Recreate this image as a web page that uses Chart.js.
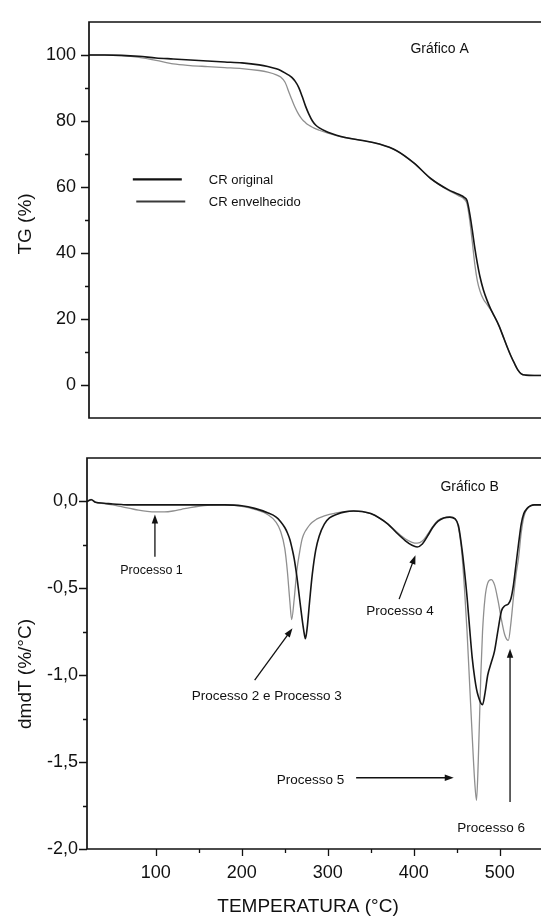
<!DOCTYPE html>
<html lang="pt">

<head>
  <meta charset="UTF-8" />
  <title>TG / DTG - CR original e envelhecido</title>
  <script src="https://cdn.jsdelivr.net/npm/chart.js"></script>
  <style>
    * {
      margin: 0;
      padding: 0;
      box-sizing: border-box;
    }

    body {
      width: 541px;
      height: 920px;
      background: #fff;
      overflow: hidden;
      position: relative;
    }

    .panel {
      position: absolute;
      left: 0;
      width: 541px;
    }

    #panelA {
      top: 0;
      height: 440px;
    }

    #panelB {
      top: 440px;
      height: 480px;
    }
  </style>
</head>

<body>
  <div class="panel" id="panelA"><canvas id="tgChart"></canvas></div>
  <div class="panel" id="panelB"><canvas id="dtgChart"></canvas></div>

  <script>
    const FONT = '"Liberation Sans", Arial, sans-serif';
    const INK = '#111';

    const seriesNames = ['CR original', 'CR envelhecido'];

    // Gráfico A - mass loss (TG, %)
    const tgTemp = [22, 40, 60, 80, 100, 120, 140, 160, 180, 200, 220, 230, 240, 245, 250,
      255, 258, 262, 266, 270, 274, 278, 282, 286, 290, 300, 310, 320, 340, 360,
      380, 400, 420, 440, 452, 459, 462, 465, 468, 471, 474, 477, 481, 485, 489,
      493, 499, 505, 509, 513, 517, 521, 525, 530, 540, 548];
    const tgOriginal = [100, 100, 99.9, 99.6, 99.1, 98.8, 98.5, 98.2, 97.9, 97.6, 97.0, 96.5, 95.8, 95.3, 94.6,
      93.8, 93.2, 92.0, 90.2, 87.5, 84.5, 82.0, 80.0, 78.7, 77.9, 76.6, 75.7, 75.0, 74.1, 73.0,
      71.0, 67.3, 62.5, 59.2, 57.8, 56.8, 55.8, 52.0, 47.0, 41.5, 36.8, 32.8, 28.8, 25.8, 23.3,
      21.2, 18.0, 14.0, 11.3, 8.8, 6.6, 4.6, 3.4, 3.0, 2.9, 2.9];
    const tgAged = [100, 100, 99.8, 99.3, 98.4, 97.3, 96.8, 96.5, 96.2, 95.9, 95.3, 94.8, 94.0, 93.3, 91.8,
      88.5, 86.5, 84.0, 82.0, 80.5, 79.5, 78.7, 78.1, 77.6, 77.2, 76.3, 75.6, 75.0, 74.1, 73.0,
      71.0, 67.3, 62.5, 59.0, 57.4, 56.2, 54.8, 50.0, 43.5, 36.5, 31.5, 28.5, 26.0, 24.5, 23.0,
      21.2, 18.0, 14.0, 11.3, 8.8, 6.6, 4.6, 3.4, 3.0, 2.9, 2.9];

    // Gráfico B - derivative (dm/dT, %/°C)
    const dtgTemp = [20, 25, 30, 40, 50, 60, 70, 80, 90, 100, 110, 120, 130, 140, 160,
      180, 200, 215, 230, 240, 245, 250, 253, 256, 258, 261, 264, 267, 270, 272,
      274, 276, 279, 282, 286, 290, 296, 302, 310, 320, 330, 340, 350, 360, 370,
      380, 390, 398, 404, 410, 416, 422, 428, 435, 442, 448, 452, 456, 459, 462,
      465, 468, 471, 473, 475, 478, 480, 483, 486, 490, 494, 498, 502, 506, 510,
      513, 516, 519, 522, 525, 528, 532, 536, 540, 548];
    const dtgOriginal = [0.0, 0.01, -0.005, -0.01, -0.015, -0.018, -0.02, -0.02, -0.02, -0.02, -0.02, -0.02, -0.02, -0.02, -0.02,
      -0.02, -0.025, -0.04, -0.065, -0.09, -0.115, -0.15, -0.18, -0.22, -0.26, -0.33, -0.43, -0.55, -0.67, -0.74,
      -0.79, -0.73, -0.57, -0.42, -0.28, -0.2, -0.13, -0.095, -0.075, -0.06, -0.055, -0.058, -0.07, -0.095, -0.13,
      -0.18, -0.225, -0.252, -0.262, -0.245, -0.2, -0.15, -0.115, -0.095, -0.09, -0.1, -0.14, -0.27, -0.4, -0.55,
      -0.73, -0.9, -1.02, -1.08, -1.12, -1.16, -1.17, -1.1, -1.0, -0.93, -0.86, -0.74, -0.63, -0.6, -0.59,
      -0.56, -0.48, -0.36, -0.24, -0.13, -0.07, -0.04, -0.025, -0.02, -0.02];
    const dtgAged = [0.0, 0.012, -0.005, -0.012, -0.02, -0.03, -0.04, -0.05, -0.057, -0.06, -0.06, -0.055, -0.045, -0.035, -0.022,
      -0.02, -0.028, -0.045, -0.075, -0.12, -0.17, -0.27, -0.4, -0.58, -0.68, -0.56, -0.4, -0.3, -0.22, -0.19,
      -0.17, -0.155, -0.135, -0.12, -0.105, -0.095, -0.083, -0.075, -0.066, -0.058, -0.055, -0.058, -0.07, -0.095, -0.13,
      -0.175, -0.215, -0.235, -0.24, -0.228, -0.19, -0.145, -0.11, -0.093, -0.09, -0.1, -0.15, -0.3, -0.5, -0.75,
      -1.05, -1.35, -1.62, -1.72, -1.5, -1.0, -0.75, -0.55, -0.47, -0.45, -0.48, -0.57, -0.68, -0.77, -0.8,
      -0.7, -0.55, -0.42, -0.32, -0.18, -0.09, -0.04, -0.025, -0.02, -0.02];

    const lineColors = ['#151515', '#8f8f8f'];
    const lineWidths = [1.6, 1.3];

    function points(xs, ys) {
      return xs.map((x, i) => ({ x: x, y: ys[i] }));
    }

    function near(v, step) {
      const r = v / step;
      return Math.abs(r - Math.round(r)) < 1e-6;
    }

    function commaFixed(v) {
      return (Math.abs(v) < 1e-9 ? 0 : v).toFixed(1).replace('.', ',');
    }

    function drawArrow(ctx, x1, y1, x2, y2) {
      const ang = Math.atan2(y2 - y1, x2 - x1);
      const len = 9, half = 3.2;
      ctx.beginPath();
      ctx.moveTo(x1, y1);
      ctx.lineTo(x2 - Math.cos(ang) * len * 0.8, y2 - Math.sin(ang) * len * 0.8);
      ctx.stroke();
      ctx.beginPath();
      ctx.moveTo(x2, y2);
      ctx.lineTo(x2 - Math.cos(ang) * len + Math.sin(ang) * half, y2 - Math.sin(ang) * len - Math.cos(ang) * half);
      ctx.lineTo(x2 - Math.cos(ang) * len - Math.sin(ang) * half, y2 - Math.sin(ang) * len + Math.cos(ang) * half);
      ctx.closePath();
      ctx.fill();
    }

    // box (left, top, bottom) plus outward major/minor tick marks
    const frameTicks = {
      id: 'frameTicks',
      afterDraw(chart, args, opts) {
        const { ctx, chartArea: a, scales } = chart;
        ctx.save();
        ctx.strokeStyle = INK;
        ctx.lineWidth = 1.7;
        ctx.beginPath();
        ctx.moveTo(a.right + 2, a.top);
        ctx.lineTo(a.left, a.top);
        ctx.lineTo(a.left, a.bottom);
        ctx.lineTo(a.right + 2, a.bottom);
        ctx.stroke();

        ctx.lineWidth = 1.3;
        ctx.beginPath();
        const ys = scales.y;
        ys.ticks.forEach(t => {
          const major = near(t.value, opts.yMajor);
          if (!near(t.value, opts.yMinor)) return;
          if (!major && (t.value <= ys.min || t.value >= ys.max)) return;
          const p = Math.round(ys.getPixelForValue(t.value)) + 0.5;
          ctx.moveTo(a.left, p);
          ctx.lineTo(a.left - (major ? 8 : 4), p);
        });
        if (opts.xTicks) {
          const xs = scales.x;
          xs.ticks.forEach(t => {
            const major = near(t.value, opts.xMajor);
            if (!near(t.value, opts.xMinor)) return;
            const p = Math.round(xs.getPixelForValue(t.value)) + 0.5;
            ctx.moveTo(p, a.bottom);
            ctx.lineTo(p, a.bottom + (major ? 7 : 4));
          });
        }
        ctx.stroke();
        ctx.restore();
      }
    };

    // panel labels, legend, arrows and axis titles
    const notes = {
      id: 'notes',
      afterDatasetsDraw(chart, args, opts) {
        const { ctx, scales: { x, y } } = chart;
        const px = v => x.getPixelForValue(v);
        const py = v => y.getPixelForValue(v);
        ctx.save();
        ctx.fillStyle = INK;
        ctx.strokeStyle = INK;
        ctx.lineWidth = 1.3;

        (opts.arrows || []).forEach(ar => {
          drawArrow(ctx, px(ar.from[0]), py(ar.from[1]), px(ar.to[0]), py(ar.to[1]));
        });

        (opts.legend || []).forEach(l => {
          ctx.save();
          ctx.strokeStyle = l.color;
          ctx.lineWidth = l.width;
          ctx.beginPath();
          ctx.moveTo(px(l.x1), py(l.y));
          ctx.lineTo(px(l.x2), py(l.y));
          ctx.stroke();
          ctx.restore();
          ctx.font = '13px ' + FONT;
          ctx.textAlign = 'left';
          ctx.textBaseline = 'middle';
          ctx.fillText(l.text, px(l.xt), py(l.y) + 1);
        });

        ctx.textAlign = 'center';
        ctx.textBaseline = 'middle';
        (opts.texts || []).forEach(t => {
          ctx.font = t.size + 'px ' + FONT;
          ctx.fillText(t.text, px(t.x), py(t.y));
        });

        (opts.titles || []).forEach(t => {
          ctx.save();
          ctx.font = t.size + 'px ' + FONT;
          ctx.translate(t.px, t.py);
          if (t.rotate) ctx.rotate(-Math.PI / 2);
          ctx.fillText(t.text, 0, 0);
          ctx.restore();
        });
        ctx.restore();
      }
    };

    function lineDataset(i, xs, ys) {
      return {
        label: seriesNames[i],
        data: points(xs, ys),
        borderColor: lineColors[i],
        borderWidth: lineWidths[i],
        pointRadius: 0,
        cubicInterpolationMode: 'monotone',
        fill: false,
        order: i === 0 ? 0 : 1
      };
    }

    const tickFont = { family: FONT, size: 18, lineHeight: 1 };

    // Gráfico A
    new Chart(document.getElementById('tgChart'), {
      type: 'line',
      data: {
        datasets: [lineDataset(0, tgTemp, tgOriginal), lineDataset(1, tgTemp, tgAged)]
      },
      options: {
        responsive: true,
        maintainAspectRatio: false,
        animation: false,
        events: [],
        layout: { autoPadding: false, padding: { top: 17, right: 0, bottom: 15, left: 0 } },
        plugins: {
          legend: { display: false },
          tooltip: { enabled: false },
          frameTicks: { yMajor: 20, yMinor: 10, xTicks: false },
          notes: {
            texts: [{ text: 'Gráfico A', x: 430, y: 101.8, size: 14 }],
            legend: [
              { text: seriesNames[0], x1: 73, x2: 130, xt: 161.5, y: 62.3, color: '#111', width: 2.2 },
              { text: seriesNames[1], x1: 77, x2: 134, xt: 161.5, y: 55.6, color: '#3a3a3a', width: 2 }
            ],
            titles: [{ text: 'TG (%)', px: 26, py: 224, size: 19, rotate: true }]
          }
        },
        scales: {
          x: {
            type: 'linear',
            display: false,
            min: 22,
            max: 548
          },
          y: {
            min: -10,
            max: 110,
            grid: { display: false, drawTicks: false },
            border: { display: false },
            ticks: {
              stepSize: 10,
              autoSkip: false,
              padding: 13,
              color: INK,
              font: tickFont,
              callback: v => (near(v, 20) && v >= 0 && v <= 100) ? String(v) : ''
            },
            afterFit(scale) { scale.width = 89; }
          }
        }
      },
      plugins: [frameTicks, notes]
    });

    // Gráfico B
    new Chart(document.getElementById('dtgChart'), {
      type: 'line',
      data: {
        datasets: [lineDataset(0, dtgTemp, dtgOriginal), lineDataset(1, dtgTemp, dtgAged)]
      },
      options: {
        responsive: true,
        maintainAspectRatio: false,
        animation: false,
        events: [],
        layout: { autoPadding: false, padding: { top: 9, right: 0, bottom: 0, left: 0 } },
        plugins: {
          legend: { display: false },
          tooltip: { enabled: false },
          frameTicks: { yMajor: 0.5, yMinor: 0.25, xTicks: true, xMajor: 100, xMinor: 50 },
          notes: {
            texts: [
              { text: 'Gráfico B', x: 465, y: 0.084, size: 14 },
              { text: 'Processo 1', x: 95, y: -0.396, size: 12.5 },
              { text: 'Processo 2 e Processo 3', x: 229, y: -1.124, size: 13.5 },
              { text: 'Processo 4', x: 384, y: -0.63, size: 13.5 },
              { text: 'Processo 5', x: 280, y: -1.607, size: 13.5 },
              { text: 'Processo 6', x: 490, y: -1.882, size: 13.5 }
            ],
            arrows: [
              { from: [99, -0.318], to: [99, -0.075] },
              { from: [215, -1.028], to: [259, -0.73] },
              { from: [383, -0.562], to: [402, -0.309] },
              { from: [333, -1.59], to: [446.5, -1.59] },
              { from: [512, -1.73], to: [512, -0.848] }
            ],
            titles: [
              { text: 'dmdT (%/°C)', px: 26, py: 234, size: 19, rotate: true },
              { text: 'TEMPERATURA (°C)', px: 308, py: 467, size: 19, rotate: false }
            ]
          }
        },
        scales: {
          x: {
            type: 'linear',
            min: 20,
            max: 548,
            grid: { display: false, drawTicks: false },
            border: { display: false },
            ticks: {
              stepSize: 50,
              autoSkip: false,
              maxRotation: 0,
              padding: 15,
              color: INK,
              font: tickFont,
              callback: v => (near(v, 100) && v > 0) ? String(v) : ''
            },
            afterFit(scale) {
              scale.height = 71;
              // labels at the ends are blank, so no side padding is needed
              scale.paddingLeft = 0;
              scale.paddingRight = 0;
            }
          },
          y: {
            min: -2,
            max: 0.25,
            grid: { display: false, drawTicks: false },
            border: { display: false },
            ticks: {
              stepSize: 0.25,
              autoSkip: false,
              padding: 9,
              color: INK,
              font: tickFont,
              callback: v => (near(v, 0.5) && v <= 0) ? commaFixed(v) : ''
            },
            afterFit(scale) { scale.width = 87; }
          }
        }
      },
      plugins: [frameTicks, notes]
    });
  </script>
</body>

</html>
